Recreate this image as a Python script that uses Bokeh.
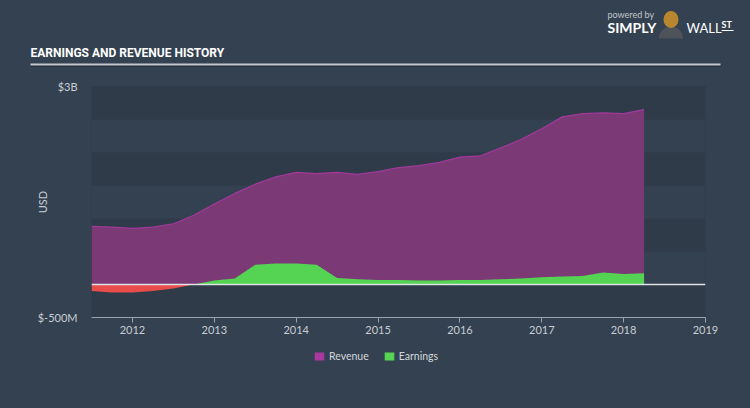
import numpy as np
from bokeh.plotting import figure
from bokeh.layouts import column, row
from bokeh.models import Range1d, FixedTicker, Legend, LegendItem, Span, ColumnDataSource
from bokeh.embed import file_html
from bokeh.resources import INLINE
from bokeh.core.properties import value

# ---- data (billions USD) ----
years = [2011.50, 2011.75, 2012.00, 2012.25, 2012.50, 2012.75, 2013.00, 2013.25,
         2013.50, 2013.75, 2014.00, 2014.25, 2014.50, 2014.75, 2015.00, 2015.25,
         2015.50, 2015.75, 2016.00, 2016.25, 2016.50, 2016.75, 2017.00, 2017.25,
         2017.50, 2017.75, 2018.00, 2018.25]
revenue = [0.88, 0.87, 0.85, 0.87, 0.92, 1.05, 1.22, 1.38,
           1.52, 1.63, 1.70, 1.68, 1.70, 1.67, 1.71, 1.77,
           1.80, 1.85, 1.93, 1.95, 2.07, 2.20, 2.36, 2.54,
           2.59, 2.60, 2.59, 2.65]
earnings = [-0.10, -0.12, -0.12, -0.10, -0.06, 0.00, 0.06, 0.09,
            0.30, 0.32, 0.32, 0.30, 0.10, 0.08, 0.07, 0.07,
            0.06, 0.06, 0.07, 0.07, 0.08, 0.09, 0.11, 0.12,
            0.13, 0.18, 0.16, 0.17]
x_ticks = [2012, 2013, 2014, 2015, 2016, 2017, 2018, 2019]
y_ticks = [-0.5, 3.0]
y_tick_labels = {-0.5: "$-500M", 3: "$3B"}
band_edges = [-0.5, 0, 0.5, 1.0, 1.5, 2.0, 2.5, 3.0]
series_names = ["Revenue", "Earnings"]

BG = "#344150"
BAND = "#2f3b49"
PURPLE = "#7b3a76"
PURPLE_EDGE = "#a0399a"
PURPLE_LEG = "#a8389e"
GREEN = "#54d452"
RED = "#e84d4b"
TXT = "#c8cdd3"
FONT = "Lato"
STY = {"background-color": BG}


def blank(height):
    f = figure(width=750, height=height, x_range=Range1d(0, 750), y_range=Range1d(height, 0),
               x_axis_type=None, y_axis_type=None, output_backend="svg",
               toolbar_location=None, min_border=0, background_fill_color=BG,
               border_fill_color=BG, outline_line_color=None, styles=STY)
    for g in f.grid:
        g.visible = False
    return f


# ---- header ----
h = blank(75)
h.segment(x0=[30], y0=[65.5], x1=[720], y1=[65.5], line_color="#232d38", line_width=1.5)
h.segment(x0=[30], y0=[64], x1=[720], y1=[64], line_color="#c3c8ce", line_width=2)
h.text(x=[30], y=[52], text=["EARNINGS AND REVENUE HISTORY"],
       text_font=value("Roboto"), text_font_style="bold",
       text_font_size="12px", text_color="white", text_baseline="middle")
h.text(x=[607], y=[14], text=["powered by"], text_font=value(FONT),
       text_font_size="9px", text_color="#c0c6cd", text_baseline="middle")
h.text(x=[607], y=[27], text=["SIMPLY"], text_font=value(FONT), text_font_style="bold",
       text_font_size="14px", text_color="white", text_baseline="middle")
h.wedge(x=[670.5], y=[38], radius=12, start_angle=0, end_angle=np.pi,
        fill_color="#4e535a", line_color=None)
h.ellipse(x=[670.5], y=[19], width=15, height=17, fill_color="#b8862e", line_color=None)
h.text(x=[686], y=[27], text=["WALL"], text_font=value(FONT),
       text_font_size="13px", text_color="white", text_baseline="middle")
h.text(x=[721], y=[24], text=["ST"], text_font=value(FONT), text_font_style="bold",
       text_font_size="9px", text_color="white", text_baseline="middle")
h.segment(x0=[721], y0=[30], x1=[733], y1=[30], line_color="white", line_width=1)

# ---- main chart ----
p = figure(width=750, height=270, x_range=Range1d(2011.5, 2019.0), y_range=Range1d(-0.5, 3.0),
           output_backend="svg", toolbar_location=None,
           min_border_left=91, min_border_right=45, min_border_top=11, min_border_bottom=28,
           background_fill_color=BAND, border_fill_color=BG, outline_line_color=None,
           styles=STY)

p.xgrid.grid_line_color = None
p.ygrid.ticker = FixedTicker(ticks=band_edges)
p.ygrid.grid_line_color = None
p.ygrid.band_fill_color = BG
p.ygrid.band_fill_alpha = 1.0

e = np.array(earnings)
src = ColumnDataSource(dict(x=years, rev=revenue, zero=[0.0] * len(years),
                            pos=np.maximum(e, 0), neg=np.minimum(e, 0)))
p.varea(x="x", y1="zero", y2="rev", source=src, fill_color=PURPLE)
p.line(x="x", y="rev", source=src, line_color=PURPLE_EDGE, line_width=1.2)
p.varea(x="x", y1="zero", y2="pos", source=src, fill_color=GREEN)
p.varea(x="x", y1="zero", y2="neg", source=src, fill_color=RED)
p.add_layout(Span(location=0, dimension="width", line_color="#dfe2e5", line_width=1.5))

p.xaxis.ticker = FixedTicker(ticks=x_ticks)
p.xaxis.axis_line_color = "#9aa3ad"
p.xaxis.major_tick_line_color = "#9aa3ad"
p.xaxis.major_tick_in = 0
p.xaxis.major_tick_out = 5
p.xaxis.minor_tick_line_color = None
p.xaxis.major_label_standoff = 3
p.xaxis.major_label_text_font = FONT
p.xaxis.major_label_text_font_size = "11px"
p.xaxis.major_label_text_color = TXT

p.yaxis.ticker = FixedTicker(ticks=y_ticks)
p.yaxis.major_label_overrides = y_tick_labels
p.yaxis.axis_line_color = None
p.yaxis.major_tick_line_color = None
p.yaxis.minor_tick_line_color = None
p.yaxis.major_label_standoff = 8
p.yaxis.major_label_text_font = FONT
p.yaxis.major_label_text_font_size = "11px"
p.yaxis.major_label_text_color = TXT
p.yaxis.axis_label = "USD"
p.yaxis.axis_label_text_font = FONT
p.yaxis.axis_label_text_font_style = "normal"
p.yaxis.axis_label_text_font_size = "11px"
p.yaxis.axis_label_text_color = TXT
p.yaxis.axis_label_standoff = -14

# ---- footer with legend (legend swatches are off-frame proxies) ----
f = blank(63)
proxy = ColumnDataSource(dict(x=[-100, -90], y1=[0, 0], y2=[1, 1]))
leg_rev = f.varea(x="x", y1="y1", y2="y2", source=proxy, fill_color=PURPLE_LEG)
leg_ear = f.varea(x="x", y1="y1", y2="y2", source=proxy, fill_color=GREEN)
legend = Legend(items=[LegendItem(label=series_names[0], renderers=[leg_rev]),
                       LegendItem(label=series_names[1], renderers=[leg_ear])],
                orientation="horizontal", location=(313, 46),
                background_fill_alpha=0, border_line_color=None,
                glyph_width=12, glyph_height=10, label_height=10,
                label_standoff=4, spacing=14, padding=0, margin=0,
                label_text_font=FONT, label_text_font_size="10.5px", label_text_color="#d3d7dc")
f.add_layout(legend)

layout = column(row(h, styles=STY), p, row(f, styles=STY), spacing=0, styles=STY)
open("out.html", "w").write(file_html(layout, INLINE))
